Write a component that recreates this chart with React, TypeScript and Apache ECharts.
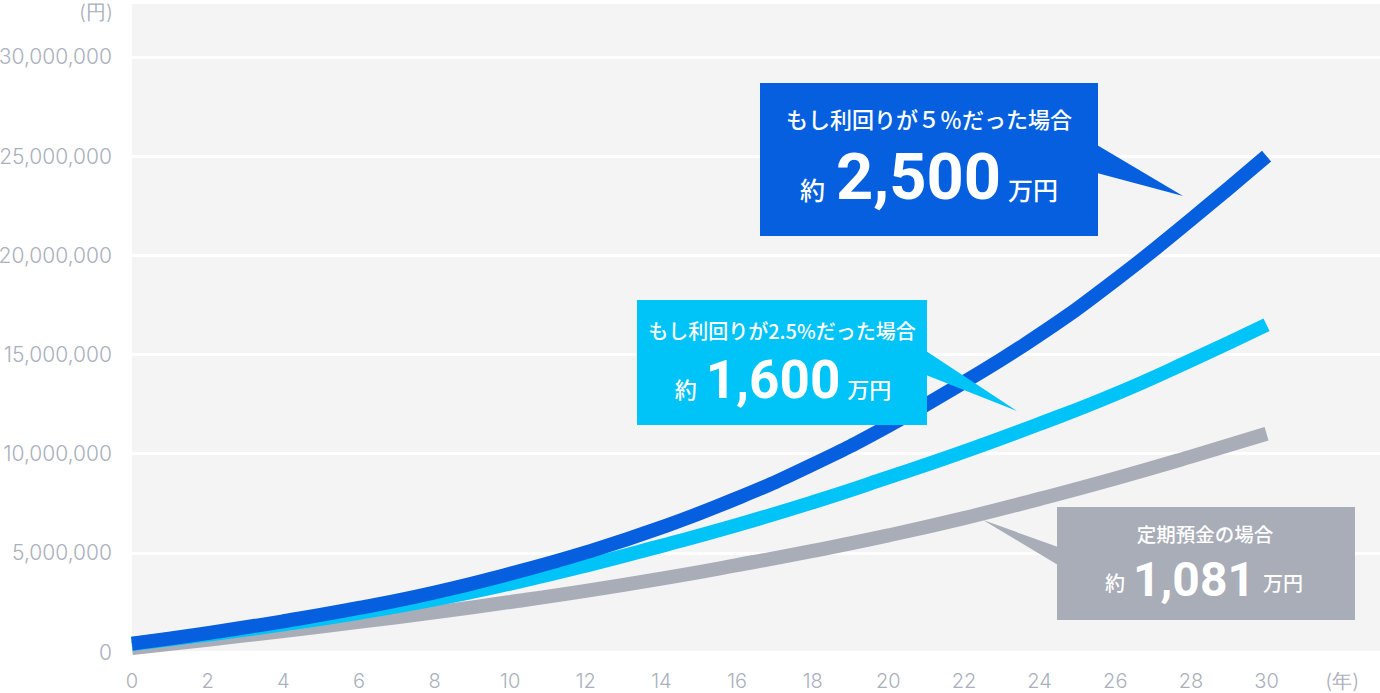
import React, { useEffect, useRef } from "react";
import * as echarts from "echarts";

// 経過年数
const years = [0, 2, 4, 6, 8, 10, 12, 14, 16, 18, 20, 22, 24, 26, 28, 30];
// 利回り5%（百万円）
const rate5 = [0.42, 0.95, 1.55, 2.22, 3.0, 3.95, 5.02, 6.28, 7.75, 9.45, 11.4, 13.6, 16.0, 18.75, 21.8, 25.0];
// 利回り2.5%（百万円）
const rate25 = [0.4, 0.88, 1.4, 1.98, 2.65, 3.45, 4.35, 5.35, 6.4, 7.55, 8.8, 10.1, 11.5, 13.0, 14.7, 16.5];
// 定期預金（百万円）
const deposit = [0.2, 0.62, 1.06, 1.52, 2.0, 2.52, 3.08, 3.7, 4.38, 5.1, 5.88, 6.75, 7.72, 8.75, 9.85, 11.0];

const MAN = 1000000;
const BLUE = "#065fdf";
const CYAN = "#00c3f8";
const GRAY = "#a8adb8";
const AXIS = "#aab0bd";
const JP = "'Noto Sans CJK JP', 'Noto Sans', sans-serif";
const LIGHT = "Inter, Roboto, sans-serif";
const NUM = "Roboto, Inter, sans-serif";

const toPairs = (vals: number[]) => years.map((y, i) => [y, vals[i] * MAN]);

const title = (text: string, x: number, y: number, size: number) => ({
  type: "text",
  z: 20,
  style: {
    text,
    x,
    y,
    fill: "#fff",
    fontSize: size,
    fontWeight: 500,
    fontFamily: JP,
    align: "center",
    textAlign: "center",
    verticalAlign: "middle",
    textVerticalAlign: "middle",
  },
});

// 「約 ○○○ 万円」
const amount = (
  num: string,
  x: number,
  y: number,
  numSize: number,
  smallSize: number,
  drop: number,
  gapL: number,
  gapR: number
) => ({
  type: "text",
  z: 20,
  style: {
    text: `{a|約}{b|${num}}{c|万円}`,
    x,
    y,
    align: "center",
    textAlign: "center",
    verticalAlign: "middle",
    textVerticalAlign: "middle",
    rich: {
      a: { fill: "#fff", color: "#fff", fontSize: smallSize, fontWeight: 500, fontFamily: JP, padding: [drop, gapL, 0, 0] },
      b: { fill: "#fff", color: "#fff", fontSize: numSize, fontWeight: 700, fontFamily: NUM },
      c: { fill: "#fff", color: "#fff", fontSize: smallSize, fontWeight: 500, fontFamily: JP, padding: [drop, 0, 0, gapR] },
    },
  },
});

const App = () => {
  const chartRef = useRef<HTMLDivElement>(null);

  useEffect(() => {
    document.body.style.margin = "0";
    if (!chartRef.current) return;
    const chart = echarts.init(chartRef.current, null, { renderer: "svg" });

    const lineSeries = (name: string, vals: number[], color: string) => ({
      name,
      type: "line",
      data: toPairs(vals),
      smooth: true,
      showSymbol: false,
      silent: true,
      lineStyle: { color, width: 14, cap: "butt" },
    });

    const labelStyle = {
      color: AXIS,
      fontWeight: 300,
      fontFamily: LIGHT,
    };

    chart.setOption({
      animation: false,
      grid: {
        left: 132,
        right: 0,
        top: 2,
        bottom: 41,
        show: true,
        backgroundColor: "#f4f4f4",
        borderWidth: 0,
        containLabel: false,
        outerBoundsMode: "none",
      },
      xAxis: {
        type: "value",
        min: 0,
        max: 33,
        interval: 2,
        axisLine: { show: false },
        axisTick: { show: false },
        splitLine: { show: false },
        axisLabel: {
          ...labelStyle,
          fontSize: 20,
          margin: 22,
          lineHeight: 14,
          formatter: (v: number) => (v === 32 ? "(年)" : v > 30 ? "" : String(v)),
        },
      },
      yAxis: {
        type: "value",
        min: 0,
        max: 32770000,
        interval: 5000000,
        axisLine: { show: false },
        axisTick: { show: false },
        splitLine: { lineStyle: { color: "#ffffff", width: 3 } },
        axisLabel: {
          ...labelStyle,
          fontSize: 21,
          margin: 20,
          formatter: (v: number) => (v > 30000000 ? "" : v.toLocaleString("en-US")),
        },
      },
      series: [
        lineSeries("定期預金", deposit, GRAY),
        lineSeries("2.5%", rate25, CYAN),
        lineSeries("5%", rate5, BLUE),
      ],
      graphic: [
        {
          type: "text",
          z: 20,
          style: {
            text: "(円)",
            x: 113,
            y: 12,
            fill: AXIS,
            fontSize: 20,
            fontWeight: 300,
            fontFamily: LIGHT,
            align: "right",
            textAlign: "right",
            verticalAlign: "middle",
            textVerticalAlign: "middle",
          },
        },
        // 5% callout
        { type: "polygon", z: 10, shape: { points: [[1097, 145], [1097, 173], [1183, 196]] }, style: { fill: BLUE } },
        { type: "rect", z: 10, shape: { x: 760, y: 83, width: 338, height: 153 }, style: { fill: BLUE } },
        title("もし利回りが５％だった場合", 929, 118, 22),
        amount("2,500", 929, 177, 65, 25, 24, 11, 7),
        // 2.5% callout
        { type: "polygon", z: 10, shape: { points: [[926, 351], [926, 375], [1017, 411]] }, style: { fill: CYAN } },
        { type: "rect", z: 10, shape: { x: 637, y: 300, width: 290, height: 125 }, style: { fill: CYAN } },
        title("もし利回りが2.5%だった場合", 782, 330, 20),
        amount("1,600", 783, 380, 53, 22, 16, 9, 7),
        // 定期預金 callout
        { type: "polygon", z: 10, shape: { points: [[1058, 547], [1058, 565], [983, 520]] }, style: { fill: GRAY } },
        { type: "rect", z: 10, shape: { x: 1057, y: 507, width: 298, height: 113 }, style: { fill: GRAY } },
        title("定期預金の場合", 1205, 533, 19.5),
        amount("1,081", 1204, 579, 48, 20, 6, 8, 8),
      ],
    });

    return () => chart.dispose();
  }, []);

  return <div ref={chartRef} style={{ width: "1380px", height: "693px" }} />;
};

export default App;
